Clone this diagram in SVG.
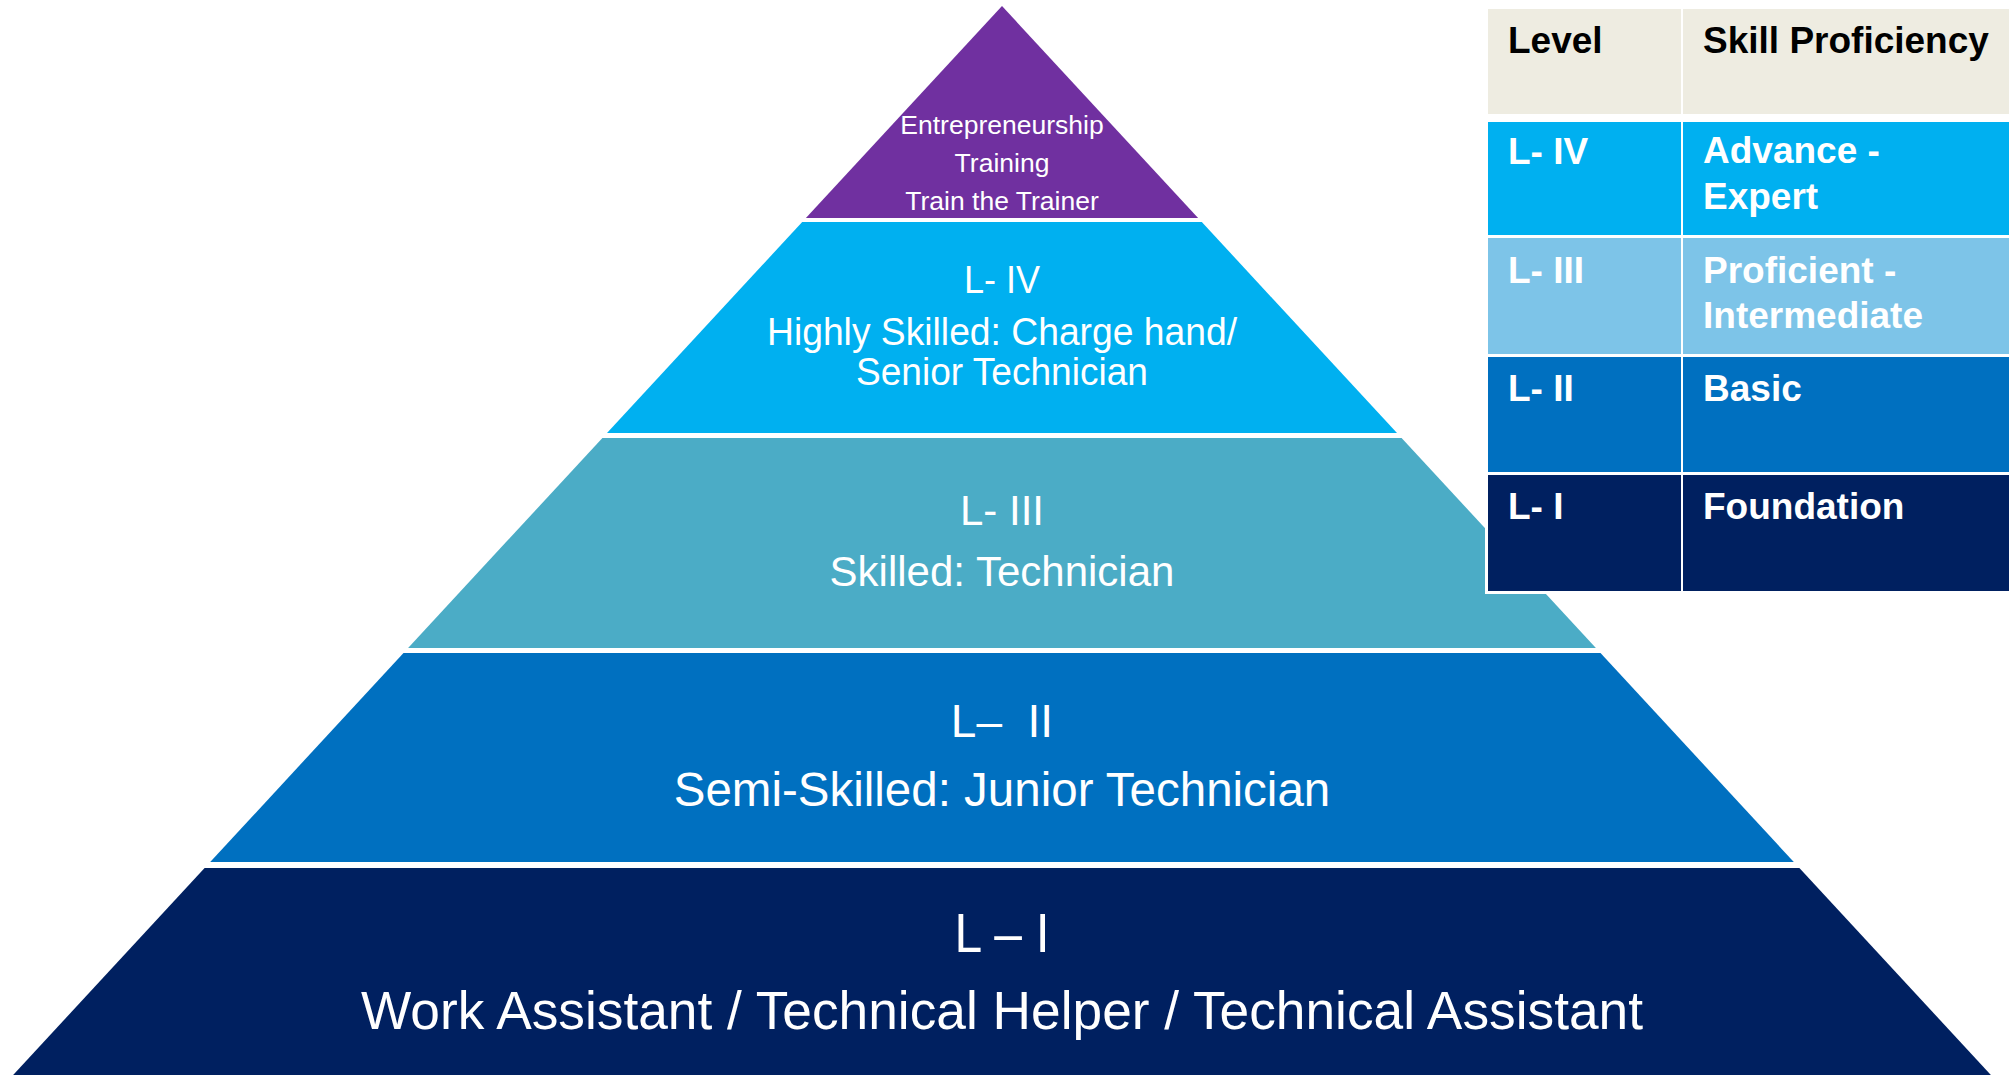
<svg xmlns="http://www.w3.org/2000/svg" width="2009" height="1075" viewBox="0 0 2009 1075">
<style>
.pt{font-family:"Liberation Sans",Arial,sans-serif;fill:#fff;text-anchor:middle}
.tt{font-family:"Liberation Sans",Arial,sans-serif;font-weight:bold;font-size:37px;fill:#fff}
.th{fill:#000}
</style>
<rect width="2009" height="1075" fill="#fff"/>
<g id="pyramid">
<g id="top"><polygon points="1002,6 1198.1,218 805.9,218" fill="#7030A0"/>
<text class="pt" x="1002" y="134" font-size="26.5">Entrepreneurship</text>
<text class="pt" x="1002" y="172" font-size="26.5">Training</text>
<text class="pt" x="1002" y="210" font-size="26.5">Train the Trainer</text></g>
<g id="l4"><polygon points="802.2,222 1201.8,222 1397,433 607,433" fill="#00B0F0"/>
<text class="pt" x="1002" y="293" font-size="38" textLength="76" lengthAdjust="spacingAndGlyphs">L- IV</text>
<text class="pt" x="1002" y="345" font-size="38" textLength="470" lengthAdjust="spacingAndGlyphs">Highly Skilled: Charge hand/</text>
<text class="pt" x="1002" y="385" font-size="38" textLength="292" lengthAdjust="spacingAndGlyphs">Senior Technician</text></g>
<g id="l3"><polygon points="602.4,438 1401.6,438 1595.9,648 408.1,648" fill="#4BACC6"/>
<text class="pt" x="1002" y="525" font-size="42">L- III</text>
<text class="pt" x="1002" y="586" font-size="42">Skilled: Technician</text></g>
<g id="l2"><polygon points="403.5,653 1600.5,653 1793.8,862 210.2,862" fill="#0070C0"/>
<text class="pt" x="1002" y="737" font-size="46" style="white-space:pre">L–  II</text>
<text class="pt" x="1002" y="806" font-size="47.5">Semi-Skilled: Junior Technician</text></g>
<g id="l1"><polygon points="204.6,868 1799.4,868 1995.5,1080 8.5,1080" fill="#002060"/>
<text class="pt" x="1002" y="952" font-size="55" textLength="95" lengthAdjust="spacingAndGlyphs">L – I</text>
<text class="pt" x="1002" y="1029" font-size="54" textLength="1282" lengthAdjust="spacingAndGlyphs">Work Assistant / Technical Helper / Technical Assistant</text></g>
</g>
<g id="table">
<rect x="1485" y="5" width="524" height="589" fill="#fff"/>
<rect x="1488" y="9" width="193" height="105" fill="#EEECE1"/>
<rect x="1683" y="9" width="326" height="105" fill="#EEECE1"/>
<rect x="1488" y="122" width="193" height="113" fill="#00B0F0"/>
<rect x="1683" y="122" width="326" height="113" fill="#00B0F0"/>
<rect x="1488" y="238" width="193" height="116" fill="#7DC4E8"/>
<rect x="1683" y="238" width="326" height="116" fill="#7DC4E8"/>
<rect x="1488" y="357" width="193" height="115" fill="#0070C0"/>
<rect x="1683" y="357" width="326" height="115" fill="#0070C0"/>
<rect x="1488" y="475" width="193" height="116" fill="#002060"/>
<rect x="1683" y="475" width="326" height="116" fill="#002060"/>
<text class="tt th" x="1508" y="53">Level</text>
<text class="tt th" x="1703" y="53">Skill Proficiency</text>
<text class="tt" x="1508" y="164">L- IV</text>
<text class="tt" x="1703" y="163">Advance -</text>
<text class="tt" x="1703" y="209">Expert</text>
<text class="tt" x="1508" y="283">L- III</text>
<text class="tt" x="1703" y="283">Proficient -</text>
<text class="tt" x="1703" y="328">Intermediate</text>
<text class="tt" x="1508" y="401">L- II</text>
<text class="tt" x="1703" y="401">Basic</text>
<text class="tt" x="1508" y="519">L- I</text>
<text class="tt" x="1703" y="519">Foundation</text>
</g>
<g id="connectors"/>
</svg>
